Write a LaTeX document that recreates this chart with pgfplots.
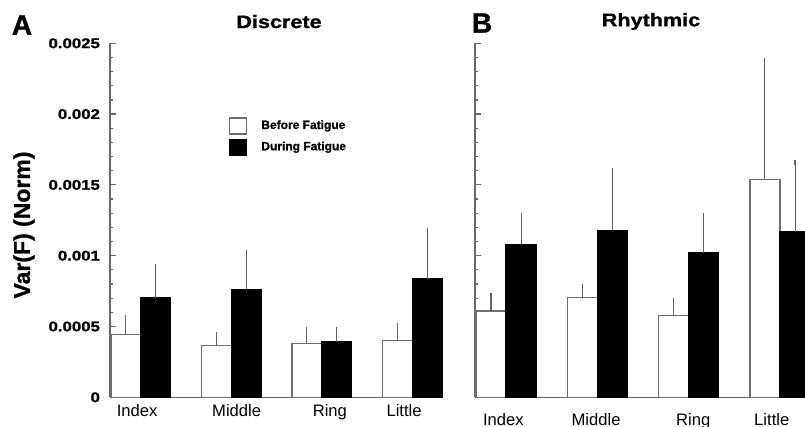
\documentclass[border=0pt]{standalone}
\usepackage{pgfplots}
\usepackage{pgfplotstable}
\pgfplotsset{compat=1.18}
\usepackage{fontspec}
\setmainfont{Liberation Sans}
\newfontfamily\wideb{Liberation Sans}[FakeStretch=1.2, FakeBold=1.2]
\newfontfamily\heavy{Liberation Sans}[FakeBold=1.0]
\definecolor{axg}{RGB}{105,105,105}
\definecolor{barg}{RGB}{110,110,110}
\definecolor{errg}{RGB}{100,100,100}

% x  before  before-err  during  during-err
\pgfplotstableread{
x b be d de
0 0.000442 0.000118 0.000701 0.000224
1 0.000367 0.000075 0.000758 0.000262
2 0.000379 0.000096 0.000390 0.000087
3 0.000400 0.000106 0.000838 0.000342
}\dataA
\pgfplotstableread{
x b be d de
0 0.000609 0.000109 0.00108 0.00020
1 0.000703 0.000078 0.00118 0.00042
2 0.000576 0.000109 0.00102 0.00026
3 0.00154 0.00084 0.00117 0.00049
}\dataB

\pgfplotsset{
  panel/.style={
    scale only axis, anchor=south west,
    height=177pt,
    ymin=0, ymax=0.0025,
    ybar,
    axis x line=bottom, axis y line=left,
    axis line style={-, draw=axg, line width=0.7pt},
    ytick={0,0.0005,0.001,0.0015,0.002,0.0025},
    minor y tick num=4,
    tick align=inside,
    major tick length=3pt, minor tick length=1.6pt,
    every tick/.style={draw=axg, line width=0.6pt},
    xtick style={draw=none},
    scaled y ticks=false,
    xticklabels={Index,Middle,Ring,Little},
    xticklabel style={font=\fontsize{8.3}{10}\selectfont},
    yticklabel style={font=\wideb\bfseries\fontsize{7}{8}\selectfont, xshift=-1.5pt},
    clip=false,
    legend image code/.code={\draw[##1] (0pt,-4pt) rectangle (8.5pt,4pt);},
  },
  errs/.style={error bars/.cd, y dir=plus, y explicit,
    error bar style={draw=errg, line width=0.55pt},
    error mark=-,
    error mark options={draw=errg, mark size=1.3pt, line width=0.55pt}},
  wbar/.style={fill=white, draw=barg, line width=0.7pt, bar width=0.33, bar shift=0pt, errs},
  bbar/.style={fill=black, draw=black, line width=0.6pt, bar width=0.33, bar shift=0pt, errs},
}

\begin{document}
\begin{tikzpicture}
\begin{axis}[panel,
  at={(55pt,14.85pt)}, width=166.5pt,
  xmin=-0.34, xmax=3.34,
  xtick={-0.04,1.06,2.09,2.91},
  yticklabels={0,0.0005,0.001,0.0015,0.002,0.0025},
  legend style={at={(rel axis cs:0.338,0.803)}, anchor=north west,
    draw=none, fill=none, font=\heavy\bfseries\fontsize{6}{7}\selectfont,
    nodes={inner sep=1pt}, row sep=2pt, column sep=6pt},
  legend cell align=left,
]
\addplot[wbar] table[x expr=\thisrow{x}-0.165, y=b, y error=be] {\dataA};
\addlegendentry{Before Fatigue}
\addplot[bbar] table[x expr=\thisrow{x}+0.165, y=d, y error=de] {\dataA};
\addlegendentry{During Fatigue}
\end{axis}

\begin{axis}[panel,
  at={(237.5pt,14.85pt)}, width=175pt,
  xmin=-0.34, xmax=3.493,
  xtick={-0.03,0.986,2.05,2.91},
  yticklabels={},
  xticklabel style={yshift=-4.5pt},
]
\addplot[wbar] table[x expr=\thisrow{x}-0.165, y=b, y error=be] {\dataB};
\addplot[bbar] table[x expr=\thisrow{x}+0.165, y=d, y error=de] {\dataB};
\end{axis}

\node[font=\heavy\bfseries\fontsize{14}{14}\selectfont] at (11pt,201pt) {A};
\node[font=\heavy\bfseries\fontsize{14}{14}\selectfont] at (241pt,202pt) {B};
\node[font=\wideb\bfseries\fontsize{9}{10}\selectfont] at (139.5pt,202.7pt) {Discrete};
\node[font=\wideb\bfseries\fontsize{9}{10}\selectfont] at (325.5pt,202.75pt) {Rhythmic};
\node[rotate=90, font=\heavy\bfseries\fontsize{11.5}{12}\selectfont] at (12pt,101pt) {Var(F) (Norm)};

\pgfresetboundingbox
\clip (0,0) rectangle (402.5pt,213.5pt);
\end{tikzpicture}
\end{document}
